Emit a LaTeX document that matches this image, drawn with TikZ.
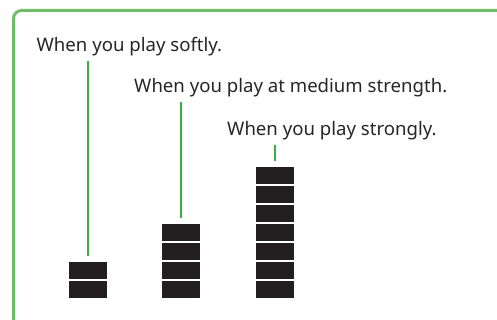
\documentclass[tikz,border=0pt]{standalone}
\usepackage{fontspec}
\setmainfont{Noto Sans}
\usetikzlibrary{positioning}
\definecolor{framegreen}{RGB}{112,190,105}
\definecolor{linegreen}{RGB}{58,172,70}
\definecolor{barblack}{RGB}{35,31,32}
\definecolor{textgray}{RGB}{38,38,38}

\begin{document}
\begin{tikzpicture}[x=1pt, y=-1pt,
    bar/.style={rectangle, fill=barblack, minimum width=38pt, minimum height=17pt, inner sep=0pt},
    caption/.style={font=\fontsize{18.6}{22}\selectfont, text=textgray, inner sep=0pt, anchor=base west},
    level/.style={draw=linegreen, line width=2.8pt, shorten <=6pt, shorten >=9pt}
]
    \useasboundingbox (0,0) rectangle (497,320);
    \clip (0,0) rectangle (497,320);

    % Frame
    \draw[framegreen, line width=3pt, rounded corners=8pt] (13.5,10.5) rectangle (530,340);

    % Captions
    \node[caption] (soft) at (36.5,52) {When you play softly.};
    \node[caption] (medium) at (134,93) {When you play at medium strength.};
    \node[caption] (strong) at (227,136) {When you play strongly.};

    % Bars
    \foreach \i in {1,2}
        \node[bar] (s\i) at (88,{289.5-19*(\i-1)}) {};
    \foreach \i in {1,...,4}
        \node[bar] (m\i) at (181,{289.5-19*(\i-1)}) {};
    \foreach \i in {1,...,7}
        \node[bar] (f\i) at (275,{289.5-19*(\i-1)}) {};

    % Levels
    \draw[level] (s2.north) -- (s2.north |- soft.base);
    \draw[level] (m4.north) -- (m4.north |- medium.base);
    \draw[level] (f7.north) -- (f7.north |- strong.base);
\end{tikzpicture}
\end{document}
